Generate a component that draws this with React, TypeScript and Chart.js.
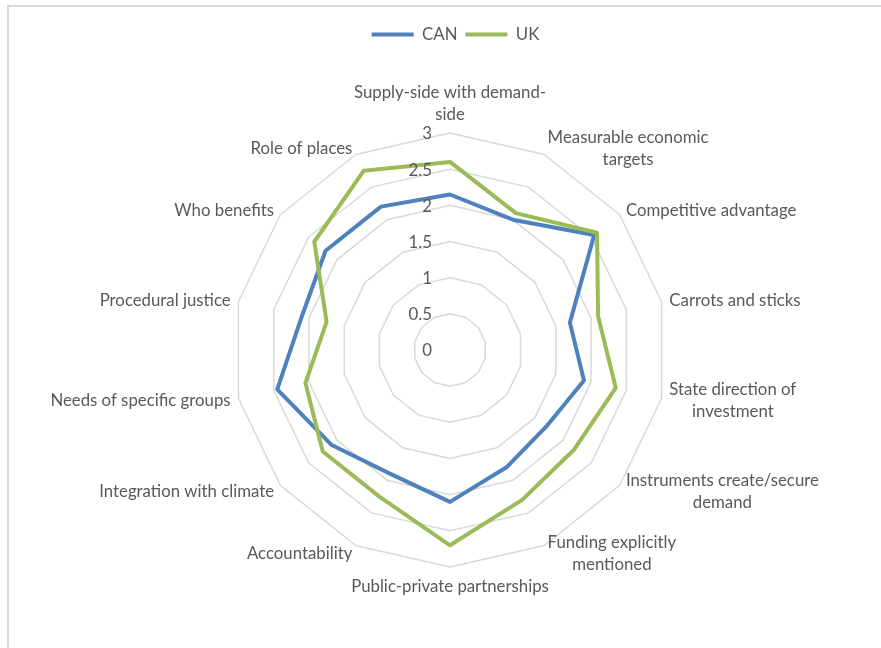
import React, { useEffect, useRef } from "react";
import { Chart, registerables } from "chart.js";

Chart.register(...registerables);

// ---- data ----
const categories: string[][] = [
  ["Supply-side with demand-", "side"],
  ["Measurable economic", "targets"],
  ["Competitive advantage"],
  ["Carrots and sticks"],
  ["State direction of", "investment"],
  ["Instruments create/secure", "demand"],
  ["Funding explicitly", "mentioned"],
  ["Public-private partnerships"],
  ["Accountability"],
  ["Integration with climate"],
  ["Needs of specific groups"],
  ["Procedural justice"],
  ["Who benefits"],
  ["Role of places"],
];

const canValues = [2.15, 2.0, 2.55, 1.7, 1.9, 1.7, 1.8, 2.1, 1.9, 2.1, 2.45, 2.1, 2.2, 2.2];
const ukValues = [2.6, 2.1, 2.6, 2.1, 2.35, 2.2, 2.3, 2.7, 2.25, 2.25, 2.05, 1.75, 2.4, 2.75];

const seriesNames = ["CAN", "UK"];
const scaleMin = 0;
const scaleMax = 3;
const scaleStep = 0.5;

// ---- styles ----
const FONT = "Lato, 'Liberation Sans', sans-serif";
const TEXT_COLOR = "#595959";
const CAN_COLOR = "#4F81BD";
const UK_COLOR = "#9BBB59";
const FONT_SIZE = 16.8;
const LINE_H = 22;

const excelLabels = {
  id: "excelLabels",
  afterDraw(chart: any) {
    const scale = chart.scales.r;
    const ctx = chart.ctx as CanvasRenderingContext2D;
    ctx.save();
    ctx.font = `${FONT_SIZE}px ${FONT}`;
    ctx.fillStyle = TEXT_COLOR;
    ctx.textBaseline = "middle";

    // tick labels (right aligned, left of the vertical axis)
    ctx.textAlign = "right";
    scale.ticks.forEach((t: any) => {
      const d = scale.getDistanceFromCenterForValue(t.value);
      ctx.fillText(String(Number(t.value)), scale.xCenter - 18, scale.yCenter - d + 1);
    });

    // category labels
    const labels = chart.data.labels as string[][];
    const n = labels.length;
    ctx.textAlign = "center";
    for (let i = 0; i < n; i++) {
      const lines = labels[i];
      const pos = scale.getPointPosition(i, scale.drawingArea + 8);
      const angle = (i / n) * 360;
      const bw = Math.max(...lines.map((l) => ctx.measureText(l).width));
      const bh = lines.length * LINE_H;
      let left: number;
      let top: number;
      if (Math.abs(angle) < 0.01) {
        left = pos.x - bw / 2;
        top = pos.y - bh;
      } else if (Math.abs(angle - 180) < 0.01) {
        left = pos.x - bw / 2;
        top = pos.y;
      } else if (angle < 180) {
        left = pos.x;
        top = pos.y - bh / 2;
      } else {
        left = pos.x - bw;
        top = pos.y - bh / 2;
      }
      lines.forEach((l, k) => {
        ctx.fillText(l, left + bw / 2, top + LINE_H * k + LINE_H / 2 + 1);
      });
    }
    ctx.restore();
  },
};

export default function App() {
  const canvasRef = useRef<HTMLCanvasElement | null>(null);

  useEffect(() => {
    if (!canvasRef.current) return;
    const chart = new Chart(canvasRef.current, {
      type: "radar",
      data: {
        labels: categories,
        datasets: [
          {
            label: seriesNames[0],
            data: canValues,
            borderColor: CAN_COLOR,
            backgroundColor: CAN_COLOR,
            borderWidth: 4,
            pointRadius: 0,
            pointHoverRadius: 0,
            fill: false,
            borderJoinStyle: "round",
            borderCapStyle: "round",
            order: 1,
          },
          {
            label: seriesNames[1],
            data: ukValues,
            borderColor: UK_COLOR,
            backgroundColor: UK_COLOR,
            borderWidth: 4,
            pointRadius: 0,
            pointHoverRadius: 0,
            fill: false,
            borderJoinStyle: "round",
            borderCapStyle: "round",
            order: 0,
          },
        ],
      },
      options: {
        animation: false,
        responsive: true,
        maintainAspectRatio: false,
        events: [],
        layout: { padding: { top: 18, left: 30, right: 0, bottom: 0 } },
        plugins: {
          tooltip: { enabled: false },
          legend: {
            display: true,
            position: "top",
            labels: {
              usePointStyle: true,
              pointStyle: "line",
              pointStyleWidth: 42,
              color: TEXT_COLOR,
              font: { size: FONT_SIZE, family: FONT },
              padding: 8,
              sort: (a: any, b: any) => a.datasetIndex - b.datasetIndex,
            },
          },
        },
        scales: {
          r: {
            min: scaleMin,
            max: scaleMax,
            ticks: { stepSize: scaleStep, display: false, showLabelBackdrop: false },
            grid: { color: "#d9d9d9", lineWidth: 1.5, circular: false },
            angleLines: { display: false },
            pointLabels: { display: false },
            afterFit: (s: any) => {
              s.xCenter = 450;
              s.yCenter = 350;
              s.drawingArea = 217;
            },
          },
        },
      } as any,
      plugins: [excelLabels],
    });
    return () => chart.destroy();
  }, []);

  return (
    <div>
      <div
        style={{
          position: "fixed",
          left: 7,
          top: 5,
          width: 1000,
          height: 1000,
          borderTop: "2px solid #d9d9d9",
          borderLeft: "2px solid #d9d9d9",
          boxSizing: "border-box",
        }}
      />
      <div style={{ position: "fixed", left: 0, top: 0, width: 881, height: 648 }}>
        <canvas ref={canvasRef} />
      </div>
    </div>
  );
}
